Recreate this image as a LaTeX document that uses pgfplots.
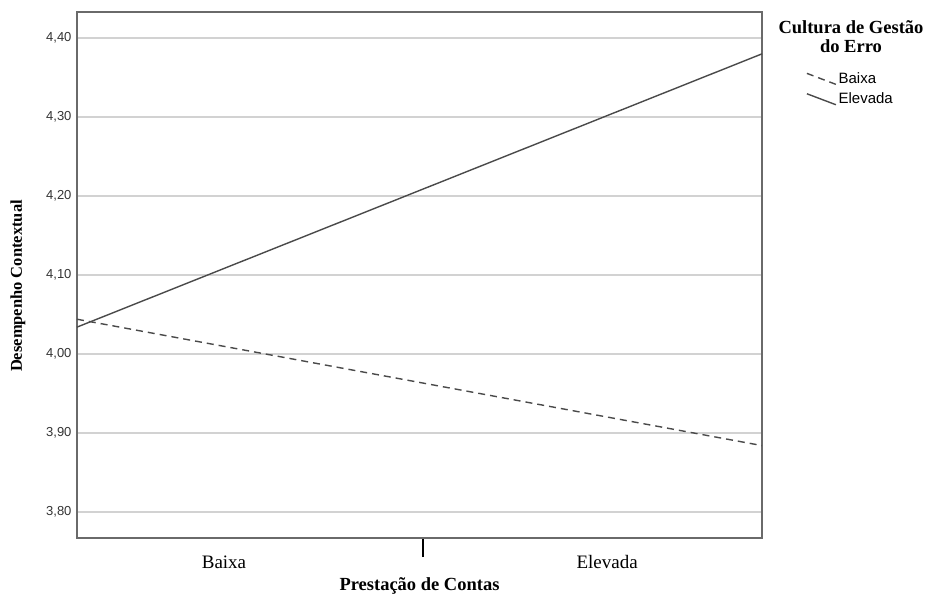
\documentclass[border=0pt]{standalone}
\usepackage{fontspec}
\setmainfont{Liberation Serif}
\newfontfamily\arialf{Liberation Sans}
\usepackage{pgfplots}
\pgfplotsset{compat=1.18}
\definecolor{lin}{HTML}{4A4A4A}
\definecolor{grd}{HTML}{D2D2D2}
\definecolor{frm}{HTML}{6A6A6A}
\definecolor{tlab}{HTML}{333333}
\begin{document}
\begin{tikzpicture}
\useasboundingbox (-77pt,-59pt) rectangle (852pt,538pt);
\begin{axis}[
 name=ax, at={(0,0)}, anchor=south west,
 scale only axis, width=685pt, height=526pt,
 xmin=0, xmax=1, ymin=3.767, ymax=4.433,
 axis line style={frm, line width=1.5pt},
 tick pos=left, tick align=outside, major tick length=19pt,
 ytick={3.8,3.9,4.0,4.1,4.2,4.3,4.4},
 ymajorgrids, grid style={grd, line width=1.4pt},
 y tick style={draw=none},
 yticklabel style={tlab, xshift=17pt, font=\arialf\fontsize{13}{13}\selectfont, /pgf/number format/.cd, fixed, fixed zerofill, precision=2, use comma, assume math mode=true},
 xtick={0.505}, xticklabels={},
 x tick style={line width=1.2pt, color=black},
 extra x ticks={0.2146,0.774}, extra x tick labels={Baixa,Elevada},
 extra x tick style={tick style={draw=none}, xticklabel style={font=\fontsize{19}{19}\selectfont, yshift=5pt}},
 xlabel={Prestação de Contas}, ylabel={Desempenho Contextual},
 xlabel style={at={(axis description cs:0.5,0)}, anchor=center, yshift=-48pt, font=\bfseries\fontsize{18.5}{18.5}\selectfont},
 ylabel style={at={(axis description cs:-0.0861,0.479)}, anchor=center, font=\bfseries\fontsize{16.5}{16.5}\selectfont},
 clip=false,
 legend style={at={(axis description cs:1,1)}, anchor=north west, xshift=44pt, yshift=-58pt, draw=none, fill=none, font=\arialf\fontsize{15}{15}\selectfont, row sep=4pt, inner sep=0pt, cells={anchor=west}},
 legend image code/.code={\draw[#1] (0pt,5pt) -- (29pt,-6pt);},
]
\addplot[lin, line width=1.4pt, dash pattern=on 7pt off 5pt] coordinates {(0,4.044) (1,3.884)};
\addlegendentry{Baixa}
\addplot[lin, line width=1.4pt] coordinates {(0,4.034) (1,4.380)};
\addlegendentry{Elevada}
\end{axis}
\node[font=\bfseries\fontsize{18.5}{19}\selectfont, align=center] at ([shift={(89pt,-25pt)}]ax.north east) {Cultura de Gestão\\do Erro};
\end{tikzpicture}
\end{document}
